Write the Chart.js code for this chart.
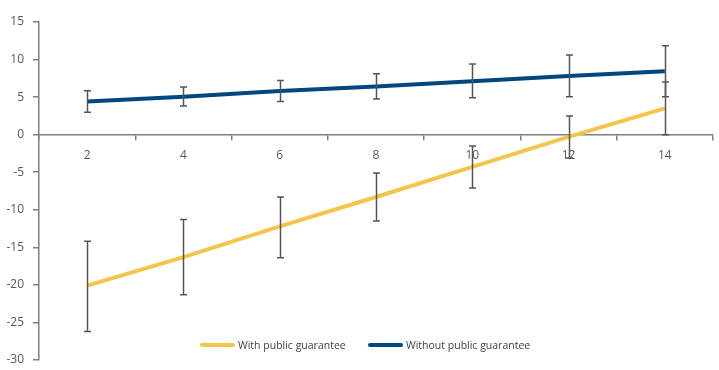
<!DOCTYPE html>
<html><head><meta charset="utf-8">
<script src="https://cdn.jsdelivr.net/npm/chart.js@4/dist/chart.umd.min.js"></script>
<style>
html,body{margin:0;padding:0;background:#fff;}
#wrap{position:relative;width:719px;height:370px;}
#legend{position:absolute;left:0;top:336px;width:719px;height:18px;font-family:"Open Sans",sans-serif;font-size:11px;color:#404040;}
.item{position:absolute;top:0;height:18px;line-height:18px;white-space:nowrap;}
.sw{position:absolute;top:7px;width:35px;height:4px;border-radius:2px;}
.tx{position:absolute;left:38px;top:0;transform:scaleX(0.955);transform-origin:left center;}
</style></head>
<body><div id="wrap"><canvas id="c" width="719" height="370"></canvas>
<div id="legend"></div></div>
<script>
const categories = ["2","4","6","8","10","12","14"];
const withGuarantee = [-20.1, -16.3, -12.2, -8.3, -4.3, -0.3, 3.5];
const withLow  = [-26.2, -21.3, -16.4, -11.5, -7.1, -3.1, 0.0];
const withHigh = [-14.2, -11.3, -8.3, -5.1, -1.5, 2.5, 7.0];
const withoutGuarantee = [4.4, 5.05, 5.8, 6.4, 7.1, 7.8, 8.45];
const withoutLow  = [3.0, 3.8, 4.4, 4.75, 4.9, 5.05, 5.05];
const withoutHigh = [5.85, 6.35, 7.2, 8.1, 9.4, 10.6, 11.85];
const yTicks = [-30,-25,-20,-15,-10,-5,0,5,10,15];
const seriesNames = ["With public guarantee","Without public guarantee"];
const colors = ["#F4C54A","#00467F"];

const errorBars = {
  id:'errorBars',
  afterDatasetsDraw(chart){
    const ctx = chart.ctx, x = chart.scales.x, y = chart.scales.y;
    const sets = [[withLow,withHigh],[withoutLow,withoutHigh]];
    ctx.save();
    ctx.strokeStyle = '#555';
    ctx.lineWidth = 1.5;
    sets.forEach(([lo,hi])=>{
      categories.forEach((c,i)=>{
        const px = Math.round(x.getPixelForValue(i))+0.5;
        const y1 = y.getPixelForValue(lo[i]), y2 = y.getPixelForValue(hi[i]);
        ctx.beginPath();
        ctx.moveTo(px,y1); ctx.lineTo(px,y2);
        ctx.moveTo(px-3.5,y1); ctx.lineTo(px+3.5,y1);
        ctx.moveTo(px-3.5,y2); ctx.lineTo(px+3.5,y2);
        ctx.stroke();
      });
    });
    ctx.restore();
  }
};

Chart.defaults.font.family = '"Open Sans", sans-serif';
Chart.defaults.color = '#595959';

new Chart(document.getElementById('c'), {
  type:'line',
  data:{
    labels:categories,
    datasets:[
      {label:seriesNames[0], data:withGuarantee, borderColor:colors[0], backgroundColor:colors[0], borderWidth:4, pointRadius:0, tension:0},
      {label:seriesNames[1], data:withoutGuarantee, borderColor:colors[1], backgroundColor:colors[1], borderWidth:4, pointRadius:0, tension:0}
    ]
  },
  options:{
    responsive:false, animation:false,
    layout:{padding:{top:22,right:6,bottom:10,left:0}},
    plugins:{legend:{display:false}, tooltip:{enabled:false}},
    scales:{
      x:{
        type:'category', offset:true, position:{y:0},
        afterFit(s){ s.height = 0; s.paddingTop = 0; s.paddingBottom = 0; },
        grid:{offset:true, drawOnChartArea:false, drawTicks:true, tickLength:5, color:'#7f7f7f', lineWidth:1.5},
        border:{color:'#7f7f7f', width:1.5},
        ticks:{font:{size:12}, padding:9, color:'#595959', maxRotation:0}
      },
      y:{
        min:-30, max:15,
        afterFit(s){ s.width = 39; s.paddingTop = 0; s.paddingBottom = 0; },
        afterBuildTicks(s){ s.ticks = yTicks.map(v=>({value:v})); },
        grid:{drawOnChartArea:false, drawTicks:true, tickLength:6, color:'#7f7f7f', lineWidth:1.5},
        border:{color:'#7f7f7f', width:1.5},
        ticks:{font:{size:12}, padding:9, color:'#595959'}
      }
    }
  },
  plugins:[errorBars]
});

const legend = document.getElementById('legend');
const legendX = [200, 368];
seriesNames.forEach((n,i)=>{
  const d = document.createElement('div');
  d.className='item'; d.style.left=legendX[i]+'px';
  d.innerHTML = '<span class="sw" style="background:'+colors[i]+'"></span><span class="tx">'+n+'</span>';
  legend.appendChild(d);
});
</script></body></html>
